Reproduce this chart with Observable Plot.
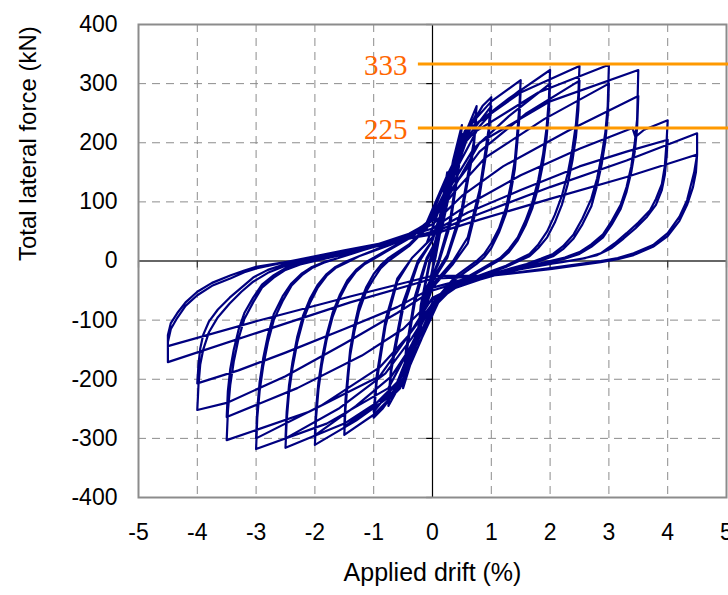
<!DOCTYPE html>
<html><head><meta charset="utf-8">
<script src="https://cdn.jsdelivr.net/npm/d3@7"></script>
<script src="https://cdn.jsdelivr.net/npm/@observablehq/plot@0.6"></script>
<style>
html,body{margin:0;padding:0;background:#fff;}
#chart{width:728px;height:595px;overflow:hidden;}
</style></head><body><div id="chart"></div>
<script>
// Axis ticks
const xTicks = [-5,-4,-3,-2,-1,0,1,2,3,4,5];
const yTicks = [-400,-300,-200,-100,0,100,200,300,400];

// Reference force levels (kN) and where their lines start (drift %)
const refLevels = [333, 225];
const refStart = -0.24;

// Hysteresis path: [drift %, force kN], one array per drift level (two cycles each)
const loop025 = [[0,0],[0.1,60],[0.25,150],[0.2,90],[0.05,10],[-0.1,-60],[-0.25,-140],[-0.2,-80],[-0.05,-5],[0.1,55],[0.25,140],[0.2,85],[0.05,5],[-0.1,-55],[-0.25,-130],[-0.2,-75],[-0.05,0]];
const loop050 = [[0.15,60],[0.35,170],[0.5,230],[0.45,170],[0.3,70],[0.1,0],[-0.1,-50],[-0.3,-150],[-0.5,-215],[-0.45,-160],[-0.3,-70],[-0.1,0],[0.1,45],[0.3,150],[0.5,215],[0.45,160],[0.3,60],[0.1,-5],[-0.1,-45],[-0.3,-140],[-0.5,-205],[-0.45,-150],[-0.3,-60],[-0.1,5]];
const loop075 = [[0.15,50],[0.45,190],[0.75,262],[0.7,200],[0.5,90],[0.25,10],[0,-30],[-0.25,-120],[-0.5,-200],[-0.75,-245],[-0.7,-185],[-0.5,-80],[-0.25,-5],[0,35],[0.25,110],[0.5,200],[0.75,250],[0.7,190],[0.5,80],[0.25,5],[0,-35],[-0.25,-115],[-0.5,-190],[-0.75,-235],[-0.7,-175],[-0.5,-70],[-0.25,0]];
const loop100 = [[0,35],[0.3,130],[0.6,220],[0.85,262],[1.0,277],[0.95,220],[0.8,120],[0.6,40],[0.35,0],[0,-40],[-0.3,-130],[-0.6,-215],[-0.85,-250],[-1.0,-265],[-0.95,-205],[-0.8,-110],[-0.6,-35],[-0.35,5],[0,40],[0.3,125],[0.6,210],[1.0,262],[0.95,205],[0.8,110],[0.6,30],[0.35,-5],[0,-45],[-0.3,-130],[-0.6,-205],[-1.0,-255],[-0.95,-195],[-0.8,-100],[-0.6,-30],[-0.35,5]];
const loop150 = [[-0.1,30],[0.2,110],[0.55,220],[1.0,270],[1.5,306],[1.48,265],[1.44,215],[1.4,170],[1.33,128],[1.25,90],[1.13,55],[1.0,30],[0.88,12],[0.75,0],[0.4,-25],[0.1,-60],[-0.2,-135],[-0.55,-215],[-1.0,-260],[-1.5,-294],[-1.48,-250],[-1.44,-203],[-1.4,-160],[-1.33,-120],[-1.25,-85],[-1.13,-52],[-1.0,-30],[-0.88,-12],[-0.75,0],[-0.4,25],[-0.1,55],[0.2,115],[0.55,200],[1.0,250],[1.5,290],[1.48,245],[1.44,198],[1.4,155],[1.33,115],[1.25,80],[1.13,48],[1.0,22],[0.88,6],[0.75,-5],[0.4,-30],[0.1,-62],[-0.2,-125],[-0.55,-200],[-1.0,-245],[-1.5,-280],[-1.48,-235],[-1.44,-190],[-1.4,-150],[-1.33,-110],[-1.25,-75],[-1.13,-45],[-1.0,-22],[-0.88,-7],[-0.75,5],[-0.4,28]];
const loop200 = [[-0.1,58],[0.25,140],[0.65,225],[1.3,275],[2.0,323],[1.98,275],[1.94,225],[1.88,180],[1.8,138],[1.7,100],[1.58,68],[1.45,40],[1.3,20],[1.15,5],[0.8,-15],[0.4,-38],[0.1,-70],[-0.25,-145],[-0.6,-220],[-1.3,-270],[-2.0,-311],[-1.98,-265],[-1.94,-218],[-1.88,-175],[-1.8,-133],[-1.7,-95],[-1.58,-63],[-1.45,-38],[-1.3,-18],[-1.15,-5],[-0.8,15],[-0.4,38],[-0.1,65],[0.3,125],[0.7,190],[1.3,245],[2.0,300],[1.98,255],[1.94,208],[1.88,165],[1.8,125],[1.7,90],[1.58,60],[1.45,35],[1.3,15],[1.15,2],[0.8,-18],[0.4,-40],[0.1,-70],[-0.3,-135],[-0.7,-195],[-1.3,-245],[-2.0,-295],[-1.98,-250],[-1.94,-205],[-1.88,-165],[-1.8,-125],[-1.7,-88],[-1.58,-58],[-1.45,-33],[-1.3,-15],[-1.15,-3],[-0.8,17],[-0.4,40]];
const loop250 = [[-0.1,65],[0.25,145],[0.65,225],[1.5,285],[2.5,330],[2.48,280],[2.44,232],[2.38,190],[2.3,148],[2.2,110],[2.08,78],[1.95,50],[1.8,28],[1.65,12],[1.45,2],[1.25,-8],[0.7,-28],[0.3,-45],[0,-75],[-0.3,-145],[-0.65,-220],[-1.5,-275],[-2.5,-316],[-2.48,-270],[-2.44,-222],[-2.38,-180],[-2.3,-138],[-2.2,-100],[-2.08,-70],[-1.95,-45],[-1.8,-25],[-1.65,-12],[-1.45,-2],[-1.25,8],[-0.7,28],[-0.3,45],[0,70],[0.35,125],[0.8,185],[1.6,250],[2.5,305],[2.48,255],[2.44,210],[2.38,170],[2.3,130],[2.2,95],[2.08,65],[1.95,40],[1.8,22],[1.65,8],[1.45,-1],[1.25,-10],[0.7,-30],[0.3,-48],[0,-75],[-0.35,-130],[-0.8,-190],[-1.6,-250],[-2.5,-300],[-2.48,-255],[-2.44,-210],[-2.38,-170],[-2.3,-128],[-2.2,-92],[-2.08,-63],[-1.95,-40],[-1.8,-22],[-1.65,-10],[-1.45,0],[-1.25,8],[-0.7,30],[-0.3,48]];
const loop300 = [[0,72],[0.35,145],[0.75,220],[1.8,285],[3.0,332],[2.98,262],[2.94,218],[2.88,180],[2.8,140],[2.7,105],[2.55,72],[2.4,45],[2.22,25],[2.05,12],[1.85,4],[1.6,-5],[1.0,-22],[0.4,-42],[0,-70],[-0.35,-140],[-0.75,-215],[-1.8,-275],[-3.0,-318],[-2.98,-265],[-2.94,-220],[-2.88,-178],[-2.8,-138],[-2.7,-100],[-2.55,-68],[-2.4,-42],[-2.22,-24],[-2.05,-12],[-1.85,-3],[-1.6,5],[-1.0,24],[-0.4,45],[0,70],[0.4,120],[0.9,175],[1.9,240],[3.0,300],[2.98,245],[2.94,203],[2.88,165],[2.8,128],[2.7,92],[2.55,62],[2.4,38],[2.22,20],[2.05,8],[1.85,1],[1.6,-7],[1.0,-25],[0.4,-45],[0,-72],[-0.4,-125],[-0.9,-180],[-1.9,-245],[-3.0,-300],[-2.98,-250],[-2.94,-205],[-2.88,-165],[-2.8,-126],[-2.7,-90],[-2.55,-60],[-2.4,-38],[-2.22,-21],[-2.05,-10],[-1.85,-2],[-1.6,5],[-1.0,26],[-0.4,46]];
const loop350 = [[0,68],[0.4,130],[0.8,200],[2.0,270],[3.5,323],[3.48,240],[3.44,200],[3.38,160],[3.3,125],[3.2,95],[3.05,68],[2.9,45],[2.7,28],[2.5,15],[2.25,6],[2.0,0],[1.2,-18],[0.5,-38],[0,-62],[-0.4,-125],[-0.9,-195],[-2.1,-255],[-3.5,-303],[-3.48,-255],[-3.44,-210],[-3.38,-170],[-3.3,-132],[-3.2,-98],[-3.05,-70],[-2.9,-45],[-2.7,-28],[-2.5,-15],[-2.25,-6],[-2.0,0],[-1.2,18],[-0.5,38],[0,62],[0.5,110],[1.2,160],[2.3,220],[3.5,279],[3.48,225],[3.44,185],[3.38,150],[3.3,117],[3.2,88],[3.05,62],[2.9,40],[2.7,24],[2.5,12],[2.25,4],[2.0,-2],[1.2,-20],[0.5,-40],[0,-65],[-0.5,-115],[-1.2,-160],[-2.3,-215],[-3.5,-264],[-3.48,-220],[-3.44,-183],[-3.38,-150],[-3.3,-117],[-3.2,-88],[-3.05,-62],[-2.9,-40],[-2.7,-24],[-2.5,-12],[-2.25,-4],[-2.0,2],[-1.2,20],[-0.5,40]];
const loop400 = [[0,55],[0.6,95],[1.5,145],[2.5,190],[3.4,225],[3.45,210],[3.6,222],[4.0,238],[3.98,200],[3.95,160],[3.9,130],[3.8,105],[3.7,86],[3.5,65],[3.3,47],[3.1,30],[2.86,13],[2.6,5],[2.3,0],[1.5,-14],[0.6,-32],[0,-50],[-0.6,-88],[-1.5,-140],[-2.5,-195],[-3.5,-240],[-4.0,-252],[-3.98,-210],[-3.95,-175],[-3.9,-150],[-3.8,-120],[-3.65,-95],[-3.45,-72],[-3.25,-52],[-3.05,-35],[-2.8,-20],[-2.5,-8],[-2.2,0],[-1.3,17],[-0.5,35],[0,50],[0.6,82],[1.5,120],[2.5,160],[3.3,185],[4.0,205],[3.98,175],[3.95,145],[3.9,120],[3.8,95],[3.65,75],[3.45,55],[3.25,38],[3.05,22],[2.8,10],[2.5,3],[2.2,-2],[1.3,-15],[0.5,-32],[0,-45],[-0.6,-78],[-1.5,-115],[-2.5,-155],[-3.3,-185],[-4.0,-207],[-3.98,-175],[-3.95,-148],[-3.9,-125],[-3.8,-102],[-3.65,-82],[-3.45,-62],[-3.25,-45],[-3.05,-28],[-2.8,-15],[-2.5,-5],[-2.2,2],[-1.3,18],[-0.5,35]];
const loop450 = [[0,48],[0.8,80],[2.0,125],[3.3,170],[4.5,216],[4.5,180],[4.45,150],[4.33,103],[4.2,75],[4.0,47],[3.75,27],[3.42,13],[3.15,5],[2.86,0],[2.0,-12],[1.0,-25],[0,-30],[-1.4,-70],[-3.0,-122],[-4.5,-171],[-4.5,-137],[-4.45,-115],[-4.34,-96],[-4.2,-76],[-4.0,-58],[-3.75,-42],[-3.43,-29],[-3.2,-19],[-2.98,-12],[-2.6,-4],[-2.3,2],[-1.5,18],[-0.6,35],[0,45],[0.8,70],[2.0,105],[3.3,142],[4.5,180],[4.48,150],[4.43,125],[4.33,95],[4.2,68],[4.0,42],[3.75,24],[3.42,10],[3.15,3],[2.86,-2],[2.0,-14],[1.0,-25],[0,-25],[-1.4,-60],[-3.0,-102],[-4.5,-144],[-4.5,-125],[-4.45,-105],[-4.34,-88],[-4.2,-70],[-4.0,-52],[-3.75,-37],[-3.43,-24],[-3.2,-16],[-3.0,-10],[-2.5,-2]];

const loops = [loop025, loop050, loop075, loop100, loop150, loop200, loop250, loop300, loop350, loop400, loop450];
const path = loops.flat().map(([drift, force]) => ({drift, force}));

const fontSans = "'Liberation Sans', Arial, sans-serif";
const grey = "#8c8c8c";

const chart = Plot.plot({
  width: 728,
  height: 595,
  marginLeft: 138,
  marginRight: 2,
  marginTop: 24,
  marginBottom: 98,
  x: {domain: [-5, 5], axis: null},
  y: {domain: [-400, 400], axis: null},
  style: {fontFamily: fontSans, background: "#fff", color: "#000"},
  marks: [
    // dashed grid
    Plot.ruleX(xTicks.filter(d => d !== 0 && Math.abs(d) !== 5), {stroke: grey, strokeWidth: 1, strokeDasharray: "8,6"}),
    Plot.ruleY(yTicks.filter(d => d !== 0 && Math.abs(d) !== 400), {stroke: grey, strokeWidth: 1, strokeDasharray: "8,6"}),
    // zero axes with small tick marks
    Plot.ruleY([0], {stroke: "#333", strokeWidth: 1.3}),
    Plot.ruleX([0], {stroke: "#000", strokeWidth: 1.2}),
    Plot.ruleY(yTicks, {x1: -0.1, x2: 0, stroke: "#000", strokeWidth: 1.2}),
    Plot.ruleX(xTicks, {y1: -12, y2: 0, stroke: "#333", strokeWidth: 1.2}),
    // frame
    Plot.frame({stroke: grey, strokeWidth: 2}),
    // hysteresis curve
    Plot.line(path, {x: "drift", y: "force", stroke: "#000080", strokeWidth: 2.2, strokeLinejoin: "round"}),
    // reference force levels
    Plot.ruleY(refLevels, {x1: refStart, x2: 5.05, stroke: "#ff9900", strokeWidth: 3}),
    Plot.text(refLevels, {x: () => refStart, y: d => d, text: d => String(d), textAnchor: "end", dx: -11, dy: 2,
      fill: "#ff6600", fontSize: 29, fontFamily: "'Liberation Serif', 'Times New Roman', serif"}),
    // tick labels
    Plot.axisX(xTicks, {tickSize: 0, tickPadding: 26, fontSize: 23, tickFormat: d => String(d), label: null}),
    Plot.axisY(yTicks, {tickSize: 0, tickPadding: 21, fontSize: 23, tickFormat: d => String(d), label: null}),
    // axis titles
    Plot.text(["Applied drift (%)"], {frameAnchor: "bottom", dy: 83, fontSize: 25, fill: "#000"}),
    Plot.text(["Total lateral force (kN)"], {frameAnchor: "left", dx: -110, rotate: -90, fontSize: 24, fill: "#000"})
  ]
});
document.getElementById("chart").appendChild(chart);
</script>
</body></html>
